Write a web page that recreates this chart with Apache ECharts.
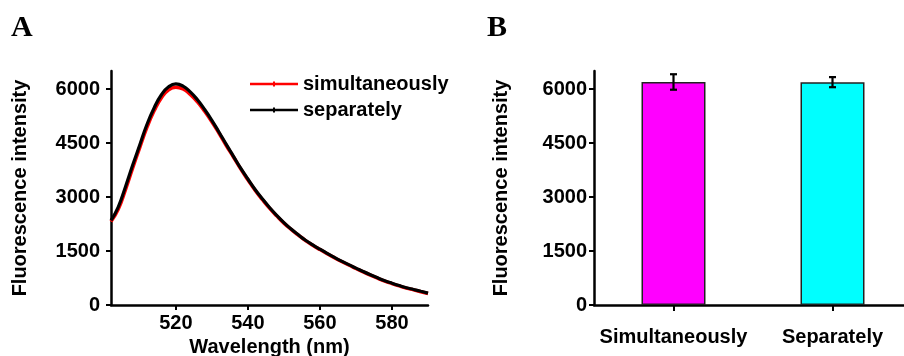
<!DOCTYPE html>
<html>
<head>
<meta charset="utf-8">
<script src="https://cdn.jsdelivr.net/npm/echarts@6/dist/echarts.min.js"></script>
<style>
html,body{margin:0;padding:0;background:#fff;}
#c{width:904px;height:356px;}
</style>
</head>
<body>
<div id="c"></div>
<script>
// Panel A: emission spectra
const wavelengths = [502,504,506,508,510,512,514,516,518,520,522,524,526,528,530,532,534,536,538,540,542,544,546,548,550,552,554,556,558,560,562,564,566,568,570,572,574,576,578,580,582,584,586,588,590];
const separately = [2350,2720,3280,3880,4450,5020,5480,5840,6060,6140,6080,5920,5700,5430,5130,4800,4460,4130,3800,3500,3210,2950,2710,2490,2290,2110,1950,1800,1670,1550,1435,1325,1220,1120,1025,930,840,755,675,605,540,480,430,380,330];
const simultaneously = [2320,2660,3200,3800,4380,4940,5400,5760,5980,6050,6000,5850,5640,5380,5090,4770,4430,4110,3780,3480,3190,2930,2690,2475,2275,2100,1940,1790,1660,1540,1425,1315,1210,1110,1015,920,830,745,665,595,530,470,420,370,320];
const xTicksA = [520,540,560,580];
const yTicks = [0,1500,3000,4500,6000];
// Panel B: bar chart
const groups = ['Simultaneously','Separately'];
const means = [6195,6190];
const errs = [215,140];
const barColors = ['#ff00ff','#00ffff'];

const font = '"Liberation Sans", Arial, sans-serif';
const lbl = {color:'#000', fontFamily:font, fontWeight:'bold', fontSize:20};
const plain = v => String(v);

const chart = echarts.init(document.getElementById('c'), null, {renderer:'canvas'});
const axisLine = {show:true, lineStyle:{color:'#000', width:2.5}};
const axisTick = {show:true, inside:false, length:5, lineStyle:{color:'#000', width:2}};
const legendIcon = 'path://M0,6 L48,6 L48,8.6 L0,8.6 Z M23,4.8 L25,4.8 L25,9.8 L23,9.8 Z';
const panelFont = {fontFamily:'"Liberation Serif", "Times New Roman", serif', fontWeight:'bold', fontSize:30, color:'#000'};

chart.setOption({
  animation:false,
  backgroundColor:'#fff',
  title:[
    {text:'A', left:11, top:13, padding:0, textStyle:panelFont},
    {text:'B', left:487, top:13, padding:0, textStyle:panelFont}
  ],
  legend:{
    left:250, top:74, padding:0, orient:'vertical', itemWidth:48, itemHeight:14, itemGap:6,
    data:[
      {name:'simultaneously', itemStyle:{color:'#ff0000'}, icon:legendIcon},
      {name:'separately', itemStyle:{color:'#000000'}, icon:legendIcon}
    ],
    textStyle:Object.assign({}, lbl, {padding:[0,0,0,0]})
  },
  grid:[
    {left:111, right:476, top:71, bottom:51, outerBoundsMode:'none'},
    {left:594, right:-8, top:71, bottom:51, outerBoundsMode:'none'}
  ],
  xAxis:[
    {gridIndex:0, type:'value', min:502, max:590,
     axisLine:axisLine, axisTick:Object.assign({}, axisTick, {customValues:xTicksA}),
     axisLabel:Object.assign({}, lbl, {margin:8, customValues:xTicksA, formatter:plain}),
     splitLine:{show:false},
     name:'Wavelength (nm)', nameLocation:'middle', nameGap:30, nameTextStyle:lbl},
    {gridIndex:1, type:'category', data:groups, boundaryGap:true,
     axisLine:axisLine, axisTick:Object.assign({}, axisTick, {length:6, alignWithLabel:true}),
     axisLabel:Object.assign({}, lbl, {margin:22, interval:0}),
     splitLine:{show:false}}
  ],
  yAxis:[
    {gridIndex:0, type:'value', min:0, max:6500,
     axisLine:axisLine, axisTick:Object.assign({}, axisTick, {customValues:yTicks}),
     axisLabel:Object.assign({}, lbl, {margin:11, customValues:yTicks, formatter:plain}),
     splitLine:{show:false},
     name:'Fluorescence intensity', nameLocation:'middle', nameGap:81, nameTextStyle:lbl},
    {gridIndex:1, type:'value', min:0, max:6500,
     axisLine:axisLine, axisTick:Object.assign({}, axisTick, {customValues:yTicks}),
     axisLabel:Object.assign({}, lbl, {margin:7, customValues:yTicks, formatter:plain}),
     splitLine:{show:false},
     name:'Fluorescence intensity', nameLocation:'middle', nameGap:83, nameTextStyle:lbl}
  ],
  series:[
    {name:'simultaneously', type:'line', xAxisIndex:0, yAxisIndex:0, smooth:true, symbol:'none',
     lineStyle:{color:'#ff0000', width:3.5}, itemStyle:{color:'#ff0000'}, z:2,
     data:wavelengths.map((w,i)=>[w, simultaneously[i]])},
    {name:'separately', type:'line', xAxisIndex:0, yAxisIndex:0, smooth:true, symbol:'none',
     lineStyle:{color:'#000000', width:3.2}, itemStyle:{color:'#000'}, z:3,
     data:wavelengths.map((w,i)=>[w, separately[i]])},
    {type:'bar', xAxisIndex:1, yAxisIndex:1, barWidth:64,
     data:means.map((m,i)=>({value:m, itemStyle:{color:barColors[i], borderColor:'#222', borderWidth:1.5}})), z:2},
    {type:'custom', xAxisIndex:1, yAxisIndex:1, z:5,
     data:means.map((m,i)=>[i, m-errs[i], m+errs[i]]),
     renderItem:function(params, api){
       const lo = api.coord([api.value(0), api.value(1)]);
       const hi = api.coord([api.value(0), api.value(2)]);
       const hw = 3.5;
       const st = {stroke:'#000', lineWidth:2.2};
       return {type:'group', children:[
         {type:'line', shape:{x1:lo[0], y1:lo[1], x2:hi[0], y2:hi[1]}, style:st},
         {type:'line', shape:{x1:lo[0]-hw, y1:lo[1], x2:lo[0]+hw, y2:lo[1]}, style:st},
         {type:'line', shape:{x1:hi[0]-hw, y1:hi[1], x2:hi[0]+hw, y2:hi[1]}, style:st}
       ]};
     }}
  ]
});
</script>
</body>
</html>
